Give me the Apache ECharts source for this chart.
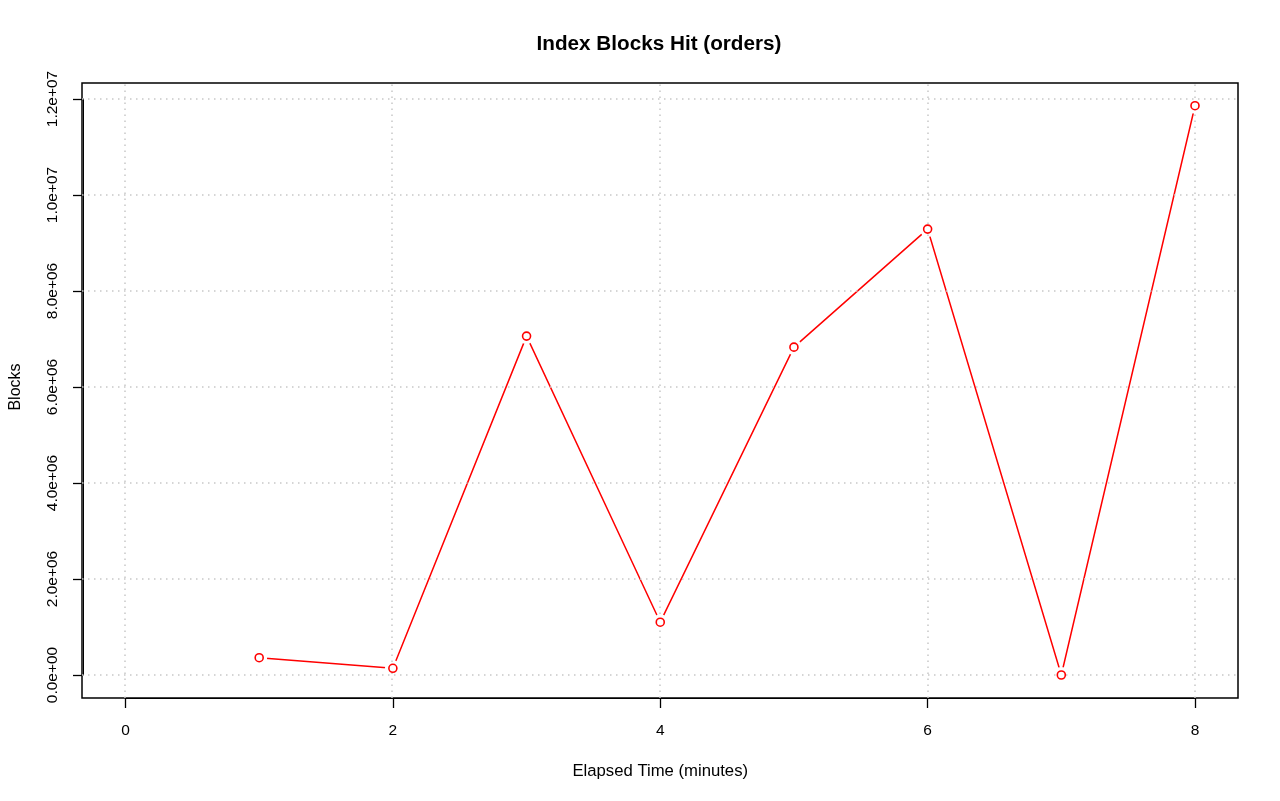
<!DOCTYPE html>
<html>
<head>
<meta charset="utf-8">
<script src="https://cdn.jsdelivr.net/npm/echarts@6/dist/echarts.min.js"></script>
<style>html,body{margin:0;padding:0;background:#fff}#c{width:1280px;height:801px}</style>
</head>
<body>
<div id="c"></div>
<script>
// ---- data ----
const minutes = [1, 2, 3, 4, 5, 6, 7, 8];
const blocksHit = [360000, 140000, 7060000, 1100000, 6830000, 9290000, 0, 11860000];
const xTicks = [0, 2, 4, 6, 8];
const yTicks = [0, 2000000, 4000000, 6000000, 8000000, 10000000, 12000000];
const yTickLabels = ['0.0e+00', '2.0e+06', '4.0e+06', '6.0e+06', '8.0e+06', '1.0e+07', '1.2e+07'];

// ---- layout (pixels) ----
const W = 1280, H = 801;
const inner = { left: 124.5, right: 1195, top: 99, bottom: 675 };
const box = { left: 82, right: 1238, top: 83, bottom: 698 };
const FONT = "'Liberation Sans', Arial, Helvetica, sans-serif";

const xMin = xTicks[0], xMax = xTicks[xTicks.length - 1];
const yMin = yTicks[0], yMax = yTicks[yTicks.length - 1];
const xUnit = (inner.right - inner.left) / (xMax - xMin);
const yUnit = (inner.bottom - inner.top) / (yMax - yMin);
const boxXMin = xMin - (inner.left - box.left) / xUnit;
const boxXMax = xMax + (box.right - inner.right) / xUnit;
const boxYMin = yMin - (box.bottom - inner.bottom) / yUnit;
const boxYMax = yMax + (inner.top - box.top) / yUnit;

const pts = minutes.map((m, i) => [m, blocksHit[i]]);
const chart = echarts.init(document.getElementById('c'), null, { renderer: 'canvas' });

chart.setOption({
  animation: false,
  backgroundColor: '#fff',
  textStyle: { fontFamily: FONT },
  title: {
    text: 'Index Blocks Hit (orders)',
    left: (box.left + box.right) / 2 - 6,
    textAlign: 'center',
    top: 29,
    textStyle: { fontFamily: FONT, fontSize: 20.7, fontWeight: 'bold', color: '#000' }
  },
  grid: [
    { left: inner.left, right: W - inner.right, top: inner.top, bottom: H - inner.bottom, containLabel: false },
    { left: box.left, right: W - box.right, top: box.top, bottom: H - box.bottom, show: true,
      borderColor: '#000', borderWidth: 1.5, backgroundColor: 'transparent', containLabel: false }
  ],
  xAxis: [
    {
      type: 'value', gridIndex: 0, min: xMin, max: xMax, interval: 2, position: 'bottom',
      offset: box.bottom - inner.bottom,
      axisLine: { show: true, onZero: false, lineStyle: { color: '#000', width: 1 } },
      axisTick: { show: true, length: 10, inside: false, lineStyle: { color: '#000', width: 1.3 } },
      axisLabel: { color: '#000', fontSize: 15.5, margin: 25, fontFamily: FONT },
      splitLine: { show: false },
      name: 'Elapsed Time (minutes)', nameLocation: 'middle', nameGap: 65,
      nameTextStyle: { color: '#000', fontSize: 16.7, fontFamily: FONT }
    },
    { type: 'value', gridIndex: 1, min: boxXMin, max: boxXMax, show: false }
  ],
  yAxis: [
    {
      type: 'value', gridIndex: 0, min: yMin, max: yMax, interval: 2000000, position: 'left',
      offset: inner.left - box.left,
      axisLine: { show: true, onZero: false, lineStyle: { color: '#000', width: 1 } },
      axisTick: { show: true, length: 10, inside: false, lineStyle: { color: '#000', width: 1.3 } },
      axisLabel: {
        color: '#000', fontSize: 15.5, margin: 22, rotate: 90, fontFamily: FONT,
        formatter: function (v) { const i = yTicks.indexOf(v); return i >= 0 ? yTickLabels[i] : ''; }
      },
      splitLine: { show: false },
      name: 'Blocks', nameLocation: 'middle', nameGap: 59, nameRotate: 90,
      nameTextStyle: { color: '#000', fontSize: 16, fontFamily: FONT }
    },
    { type: 'value', gridIndex: 1, min: boxYMin, max: boxYMax, show: false }
  ],
  series: [
    {
      type: 'line', xAxisIndex: 0, yAxisIndex: 0, data: pts, z: 2,
      showSymbol: false, symbol: 'none',
      lineStyle: { color: '#ff0000', width: 1.5 }, silent: true
    },
    {
      type: 'scatter', xAxisIndex: 0, yAxisIndex: 0, data: pts, z: 3,
      symbol: 'circle', symbolSize: 16, itemStyle: { color: '#fff', opacity: 1 }, silent: true
    },
    {
      type: 'line', xAxisIndex: 1, yAxisIndex: 1, data: [], z: 4, silent: true,
      markLine: {
        silent: true, symbol: ['none', 'none'], animation: false,
        label: { show: false },
        lineStyle: { color: '#c8c8c8', type: [1.5, 4.5], width: 1.5 },
        emphasis: { disabled: true },
        data: xTicks.map(v => ({ xAxis: v })).concat(yTicks.map(v => ({ yAxis: v })))
      }
    },
    {
      type: 'scatter', xAxisIndex: 0, yAxisIndex: 0, data: pts, z: 5,
      symbol: 'circle', symbolSize: 8,
      itemStyle: { color: '#fff', borderColor: '#ff0000', borderWidth: 1.6, opacity: 1 }, silent: true
    }
  ]
});
</script>
</body>
</html>
